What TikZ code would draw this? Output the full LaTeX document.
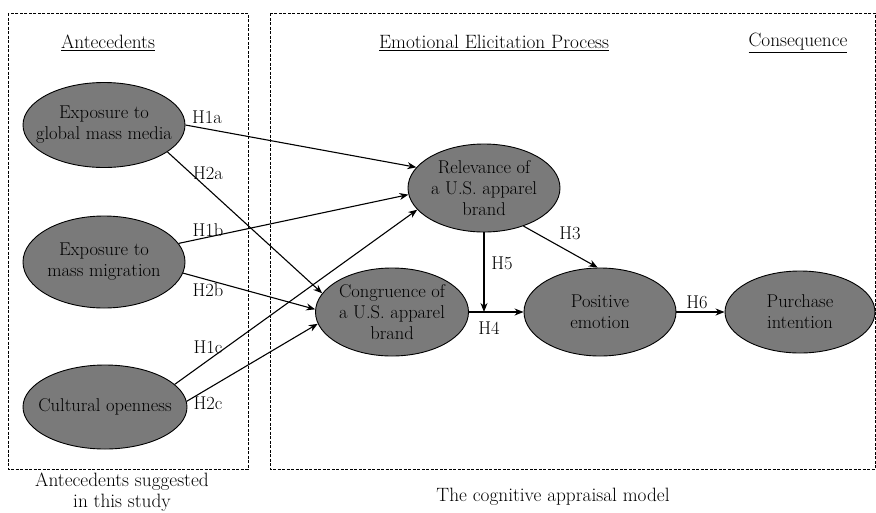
\documentclass[tikz,border=0pt]{standalone}
\usetikzlibrary{shapes.geometric,arrows.meta}
\begin{document}
\begin{tikzpicture}[x=1pt,y=-1pt,
  every node/.style={font=\rmfamily\fontsize{19.3}{21}\selectfont},
  ell/.style={ellipse,draw=black,line width=0.9pt,fill=black!52,inner sep=0pt},
  etxt/.style={align=center,inner sep=0pt,text=black,font=\rmfamily\fontsize{18.5}{21}\selectfont},
  hyp/.style={inner sep=0pt,font=\rmfamily\fontsize{18.5}{21}\selectfont},
  arr/.style={line width=1.1pt,-{Stealth[length=9pt,width=7pt]}},
  box/.style={draw,line width=0.7pt,dash pattern=on 3pt off 1.5pt},
  ttl/.style={inner sep=0pt,align=center}]
\useasboundingbox (0,0) rectangle (876,512);
% dashed frames
\draw[box] (8,13) rectangle (248,469);
\draw[box] (270,13) rectangle (875,469);
% titles
\node[ttl] (tA) at (108,43) {\underline{Antecedents}};
\node[ttl] (tE) at (494,43) {\underline{Emotional Elicitation Process}};
\node[ttl] (tC) at (798,43) {\underline{Consequence}};
\node[ttl] (capA) at (122,492) {Antecedents suggested\\in this study};
\node[ttl] (capB) at (553,497) {The cognitive appraisal model};
% ellipses
\node[ell,minimum width=162,minimum height=85] (glob) at (104,125) {};
\node[ell,minimum width=162,minimum height=92] (migr) at (104,262) {};
\node[ell,minimum width=164,minimum height=84] (cult) at (105,407) {};
\node[ell,minimum width=152,minimum height=88] (rel) at (484,188) {};
\node[ell,minimum width=153,minimum height=88] (cong) at (392,312) {};
\node[ell,minimum width=152,minimum height=88] (pos) at (600,312) {};
\node[ell,minimum width=150,minimum height=82] (pur) at (800,312) {};
% ellipse texts
\node[etxt] (globT) at (glob) {Exposure to\\global mass media};
\node[etxt] (migrT) at (migr) {Exposure to\\mass migration};
\node[etxt] (cultT) at (cult) {Cultural openness};
\node[etxt] (relT) at (rel) {Relevance of\\a U.S. apparel\\brand};
\node[etxt] (congT) at (cong) {Congruence of\\a U.S. apparel\\brand};
\node[etxt] (posT) at (pos) {Positive\\emotion};
\node[etxt] (purT) at (pur) {Purchase\\intention};
% connectors
\draw[arr] (glob.0) -- (rel.163);
\draw[arr] (glob.337) -- (cong.165);
\draw[arr] (migr.14) -- (rel.185);
\draw[arr] (migr.352) -- (cong.178);
\draw[arr] (cult.18) -- (rel.198);
\draw[arr] (cult.4) -- (cong.189);
\draw[arr] (rel.316) -- (pos.93);
\draw[arr] (rel.south) -- (rel.south |- cong.east);
\draw[arr] (cong.east) -- (pos.west);
\draw[arr] (pos.east) -- (pur.west);
% hypothesis labels
\node[hyp] (h1a) at (207,117) {H1a};
\node[hyp] (h2a) at (208,173) {H2a};
\node[hyp] (h1b) at (208,230) {H1b};
\node[hyp] (h2b) at (208,290) {H2b};
\node[hyp] (h1c) at (208,347) {H1c};
\node[hyp] (h2c) at (208,403) {H2c};
\node[hyp] (h3) at (570,233) {H3};
\node[hyp] (h5) at (502,263) {H5};
\node[hyp] (h4) at (489,328) {H4};
\node[hyp] (h6) at (697,302) {H6};
\end{tikzpicture}
\end{document}
